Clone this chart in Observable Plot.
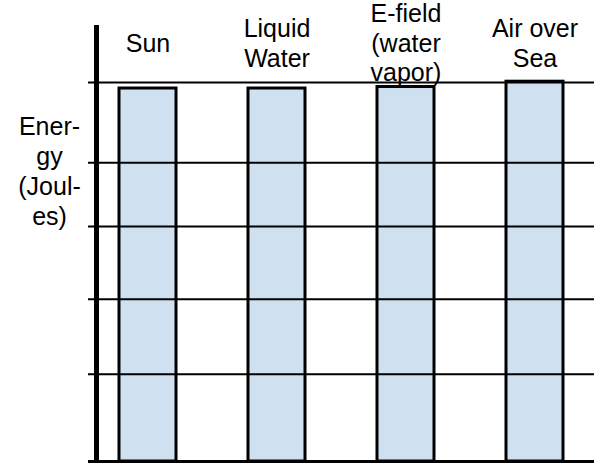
<!DOCTYPE html>
<html>
<head>
<meta charset="utf-8">
<script src="https://cdn.jsdelivr.net/npm/d3@7"></script>
<script src="https://cdn.jsdelivr.net/npm/@observablehq/plot@0.6"></script>
<style>
  html, body { margin: 0; padding: 0; background: white; }
</style>
</head>
<body>
<script>
// Categories (column labels, multi-line as in the picture)
const categories = ["Sun", "Liquid\nWater", "E-field\n(water\nvapor)", "Air over\nSea"];
// Bar heights (arbitrary energy units)
const energy = [4.92, 4.92, 4.94, 5.01];
// Horizontal gridline levels (hand-drawn, slightly uneven)
const gridLevels = [1.15, 2.14, 3.10, 3.94, 5];
// Y-axis label
const yLabel = "Ener-\ngy\n(Joul-\nes)";

const data = categories.map((c, i) => ({category: c, energy: energy[i]}));

const chart = Plot.plot({
  width: 594,
  height: 463,
  marginLeft: 88,
  marginRight: 0,
  marginTop: 27,
  marginBottom: 2,
  x: {domain: categories, paddingInner: 0.56, paddingOuter: 0.227, axis: null},
  y: {domain: [0, 5.725], axis: null},
  style: {fontFamily: "'Liberation Sans', Arial, sans-serif", fontSize: "25px", background: "white", color: "black"},
  marks: [
    Plot.barY(data, {x: "category", y: "energy", fill: "#cfe0f1", stroke: "black", strokeWidth: 3}),
    Plot.ruleY(gridLevels, {stroke: "black", strokeWidth: 2}),
    Plot.frame({anchor: "left", dx: 8, stroke: "black", strokeWidth: 5}),
    Plot.ruleY([0], {stroke: "black", strokeWidth: 3}),
    Plot.text(categories, {x: d => d, text: d => d, frameAnchor: "top", dy: 15, lineAnchor: "middle", fontSize: 25, lineHeight: 1.18, fill: "black"}),
    Plot.text([yLabel], {text: d => d, frameAnchor: "top-left", dx: -39, dy: 142.5, textAnchor: "middle", lineAnchor: "middle", fontSize: 25, lineHeight: 1.2, fill: "black"})
  ]
});
document.body.appendChild(chart);
</script>
</body>
</html>
